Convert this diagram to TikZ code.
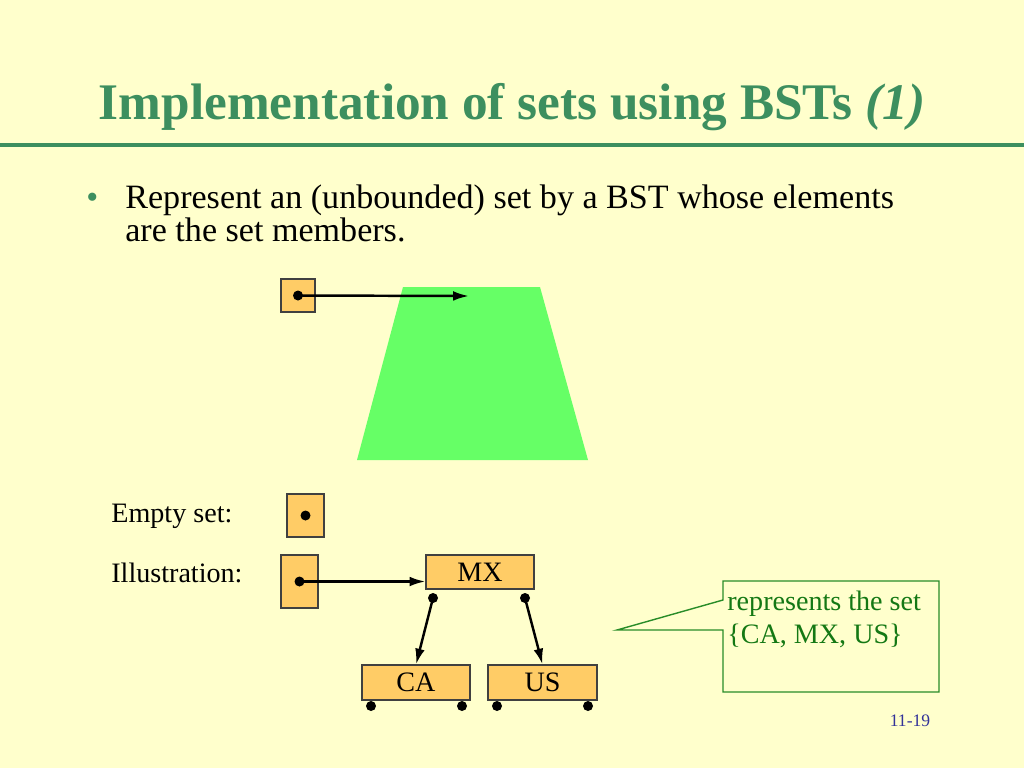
\documentclass[tikz,border=0pt]{standalone}
\usepackage{fontspec}
\setmainfont{Liberation Serif}
\usepackage{xcolor}
\usetikzlibrary{positioning, arrows.meta}

\definecolor{slidebg}{RGB}{255,255,204}
\definecolor{titlegreen}{RGB}{61,143,95}
\definecolor{cellfill}{RGB}{255,204,102}
\definecolor{treegreen}{RGB}{102,255,102}
\definecolor{notegreen}{RGB}{40,140,40}
\definecolor{notetext}{RGB}{20,120,20}
\definecolor{pagenum}{RGB}{51,51,153}

\tikzset{
  cell/.style={draw=black!75, fill=cellfill, line width=0.6pt, inner sep=0pt, font=\fontsize{16}{19}\selectfont},
  ptr/.style={-{Latex[length=9pt, width=5.5pt]}, line width=1.4pt},
  bodytext/.style={anchor=base west, inner sep=0pt, font=\fontsize{19.4}{23}\selectfont},
  labeltext/.style={anchor=base west, inner sep=0pt, font=\fontsize{16}{19}\selectfont}
}
\newcommand{\pdot}[1]{\fill (#1) circle (0.1cm);}

\begin{document}
\begin{tikzpicture}[>=latex, x=0.02cm, y=-0.02cm]
    % 1. Nền và tiêu đề
    \fill[slidebg] (0,0) rectangle (1024,768);
    \node[titlegreen, anchor=base, inner sep=0pt, font=\fontsize{29.2}{35}\selectfont\bfseries] (title) at (512,119)
        {Implementation of sets using BSTs \textit{(1)}};
    \fill[titlegreen] (0,143) rectangle (1024,147);

    % 2. Gạch đầu dòng
    \node[titlegreen, bodytext] (bullet) at (86,208) {•};
    \node[bodytext] (line1) at (125,208) {Represent an (unbounded) set by a BST whose elements};
    \node[bodytext] (line2) at (125,241) {are the set members.};

    % 3. Cây tổng quát
    \fill[treegreen] (403,287) -- (540,287) -- (588,460) -- (357,460) -- cycle;
    \node[cell, minimum width=0.68cm, minimum height=0.66cm] (topbox) at (298,295.5) {};
    \coordinate (tip) at (469,296);
    \pdot{topbox.center}
    \draw[ptr] (topbox.center) -- (tip);

    % 4. Tập rỗng
    \node[labeltext] (emptylbl) at (111,522) {Empty set:};
    \node[cell, minimum width=0.74cm, minimum height=0.86cm] (emptybox) at (305.5,515.5) {};
    \pdot{emptybox.center}

    % 5. Minh họa
    \node[labeltext] (illlbl) at (111,582) {Illustration:};
    \node[cell, minimum width=0.74cm, minimum height=1.06cm] (illbox) at (299.5,581.5) {};
    \node[cell, minimum width=2.16cm, minimum height=0.68cm] (mx) at (480,572) {MX};
    \node[cell, minimum width=2.16cm, minimum height=0.70cm] (ca) at (416,682.5) {CA};
    \node[cell, minimum width=2.18cm, minimum height=0.70cm] (us) at (542.5,682.5) {US};
    \coordinate (mxl) at (433,598);
    \coordinate (mxr) at (525,598);
    \coordinate (cal) at (371,706);
    \coordinate (car) at (462,706);
    \coordinate (usl) at (497,706);
    \coordinate (usr) at (588,706);
    \foreach \p in {illbox.center, mxl, mxr, cal, car, usl, usr} {
        \pdot{\p}
    }
    \draw[ptr] (illbox.center) -- (illbox.center -| mx.west);
    \draw[ptr] (mxl) -- (ca.north);
    \draw[ptr] (mxr) -- (us.north);

    % 6. Chú thích
    \filldraw[notegreen, fill=slidebg, line width=0.8pt]
        (723,581) -- (939,581) -- (939,692) -- (723,692) -- (723,630)
        -- (617,630) -- (723,600) -- cycle;
    \node[labeltext, notetext] (note1) at (727,610) {represents the set};
    \node[labeltext, notetext] (note2) at (727,643) {\{CA, MX, US\}};

    % 7. Số trang
    \node[pagenum, anchor=base, inner sep=0pt, font=\fontsize{10}{12}\selectfont] (page) at (910,726) {11-19};
\end{tikzpicture}
\end{document}
